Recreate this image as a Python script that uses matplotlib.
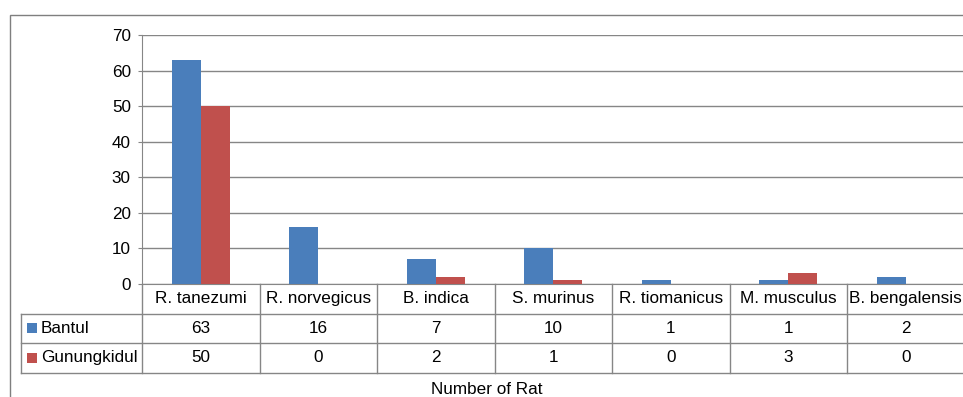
import numpy as np
import matplotlib
matplotlib.use("Agg")
import matplotlib.pyplot as plt
from matplotlib.patches import Rectangle
from matplotlib.lines import Line2D

plt.rcParams["font.family"] = ["Liberation Sans", "DejaVu Sans"]

# datos
SPECIES = ["R. tanezumi", "R. norvegicus", "B. indica", "S. murinus",
           "R. tiomanicus", "M. musculus", "B. bengalensis"]
BANTUL = [63, 16, 7, 10, 1, 1, 2]
GUNUNGKIDUL = [50, 0, 2, 1, 0, 3, 0]
SERIES = ["Bantul", "Gunungkidul"]
COLORS = ["#4A7EBB", "#C0504D"]
YTICKS = [0, 10, 20, 30, 40, 50, 60, 70]
XLABEL = "Number of Rat"

W, H = 963, 397
GRID = "#868686"
FS = 12.3

fig = plt.figure(figsize=(W / 100, H / 100), dpi=100)

# marco exterior (recortado a la derecha y abajo)
fig.add_artist(Rectangle((10 / W, -0.1), 2.0, 1 - 15 / H + 0.1,
                         transform=fig.transFigure, fill=False,
                         edgecolor="#7F7F7F", linewidth=1.0))

left, right, top, bottom = 142, 964.5, 35, 284
ax = fig.add_axes([left / W, 1 - bottom / H, (right - left) / W, (bottom - top) / H])

n = len(SPECIES)
x = np.arange(n)
bw = 0.245
ax.bar(x - bw / 2, BANTUL, bw, color=COLORS[0], zorder=3)
ax.bar(x + bw / 2, GUNUNGKIDUL, bw, color=COLORS[1], zorder=3)

ax.set_xlim(-0.5, n - 0.5)
ax.set_ylim(0, 70)
ax.set_yticks(YTICKS)
ax.set_yticklabels([str(t) for t in YTICKS], fontsize=FS)
ax.yaxis.grid(True, color=GRID, linewidth=1.0)
ax.set_axisbelow(True)
ax.tick_params(axis="y", length=3, color=GRID, pad=5)
ax.set_xticks([])
for s in ["top", "right"]:
    ax.spines[s].set_visible(False)
ax.spines["left"].set_color(GRID)
ax.spines["bottom"].set_color(GRID)

# tabla de datos debajo del eje
row_h = 29.5 / (bottom - top)
tr = ax.get_xaxis_transform()
rows_y = [0, -row_h, -2 * row_h, -3 * row_h]
px = (right - left) / n  # pixeles por categoria
x_left_col = -0.5 - (left - 21) / px

def hline(x0, x1, y):
    ax.add_line(Line2D([x0, x1], [y, y], transform=tr, color=GRID,
                       linewidth=1.0, clip_on=False))

def vline(xx, y0, y1):
    ax.add_line(Line2D([xx, xx], [y0, y1], transform=tr, color=GRID,
                       linewidth=1.0, clip_on=False))

hline(x_left_col, n - 0.5, rows_y[1])
hline(x_left_col, n - 0.5, rows_y[2])
hline(x_left_col, n - 0.5, rows_y[3])
vline(x_left_col, rows_y[1], rows_y[3])
for b in range(n + 1):
    vline(b - 0.5, rows_y[0], rows_y[3])

for i, sp in enumerate(SPECIES):
    ax.text(i, (rows_y[0] + rows_y[1]) / 2, sp, transform=tr, ha="center",
            va="center", fontsize=FS, clip_on=False)
    ax.text(i, (rows_y[1] + rows_y[2]) / 2, str(BANTUL[i]), transform=tr,
            ha="center", va="center", fontsize=FS)
    ax.text(i, (rows_y[2] + rows_y[3]) / 2, str(GUNUNGKIDUL[i]), transform=tr,
            ha="center", va="center", fontsize=FS)

for k, (name, col) in enumerate(zip(SERIES, COLORS)):
    yc = (rows_y[k + 1] + rows_y[k + 2]) / 2
    sq = 10 / px
    ax.add_patch(Rectangle((x_left_col + 6 / px, yc - 5 / (bottom - top)),
                           sq, 10 / (bottom - top), transform=tr,
                           facecolor=col, edgecolor="none", clip_on=False))
    ax.text(x_left_col + 20 / px, yc, name, transform=tr, ha="left",
            va="center", fontsize=FS)

fig.text(487 / W, 1 - 389 / H, XLABEL, ha="center", va="center", fontsize=FS)

fig.savefig("out.png", dpi=100)
